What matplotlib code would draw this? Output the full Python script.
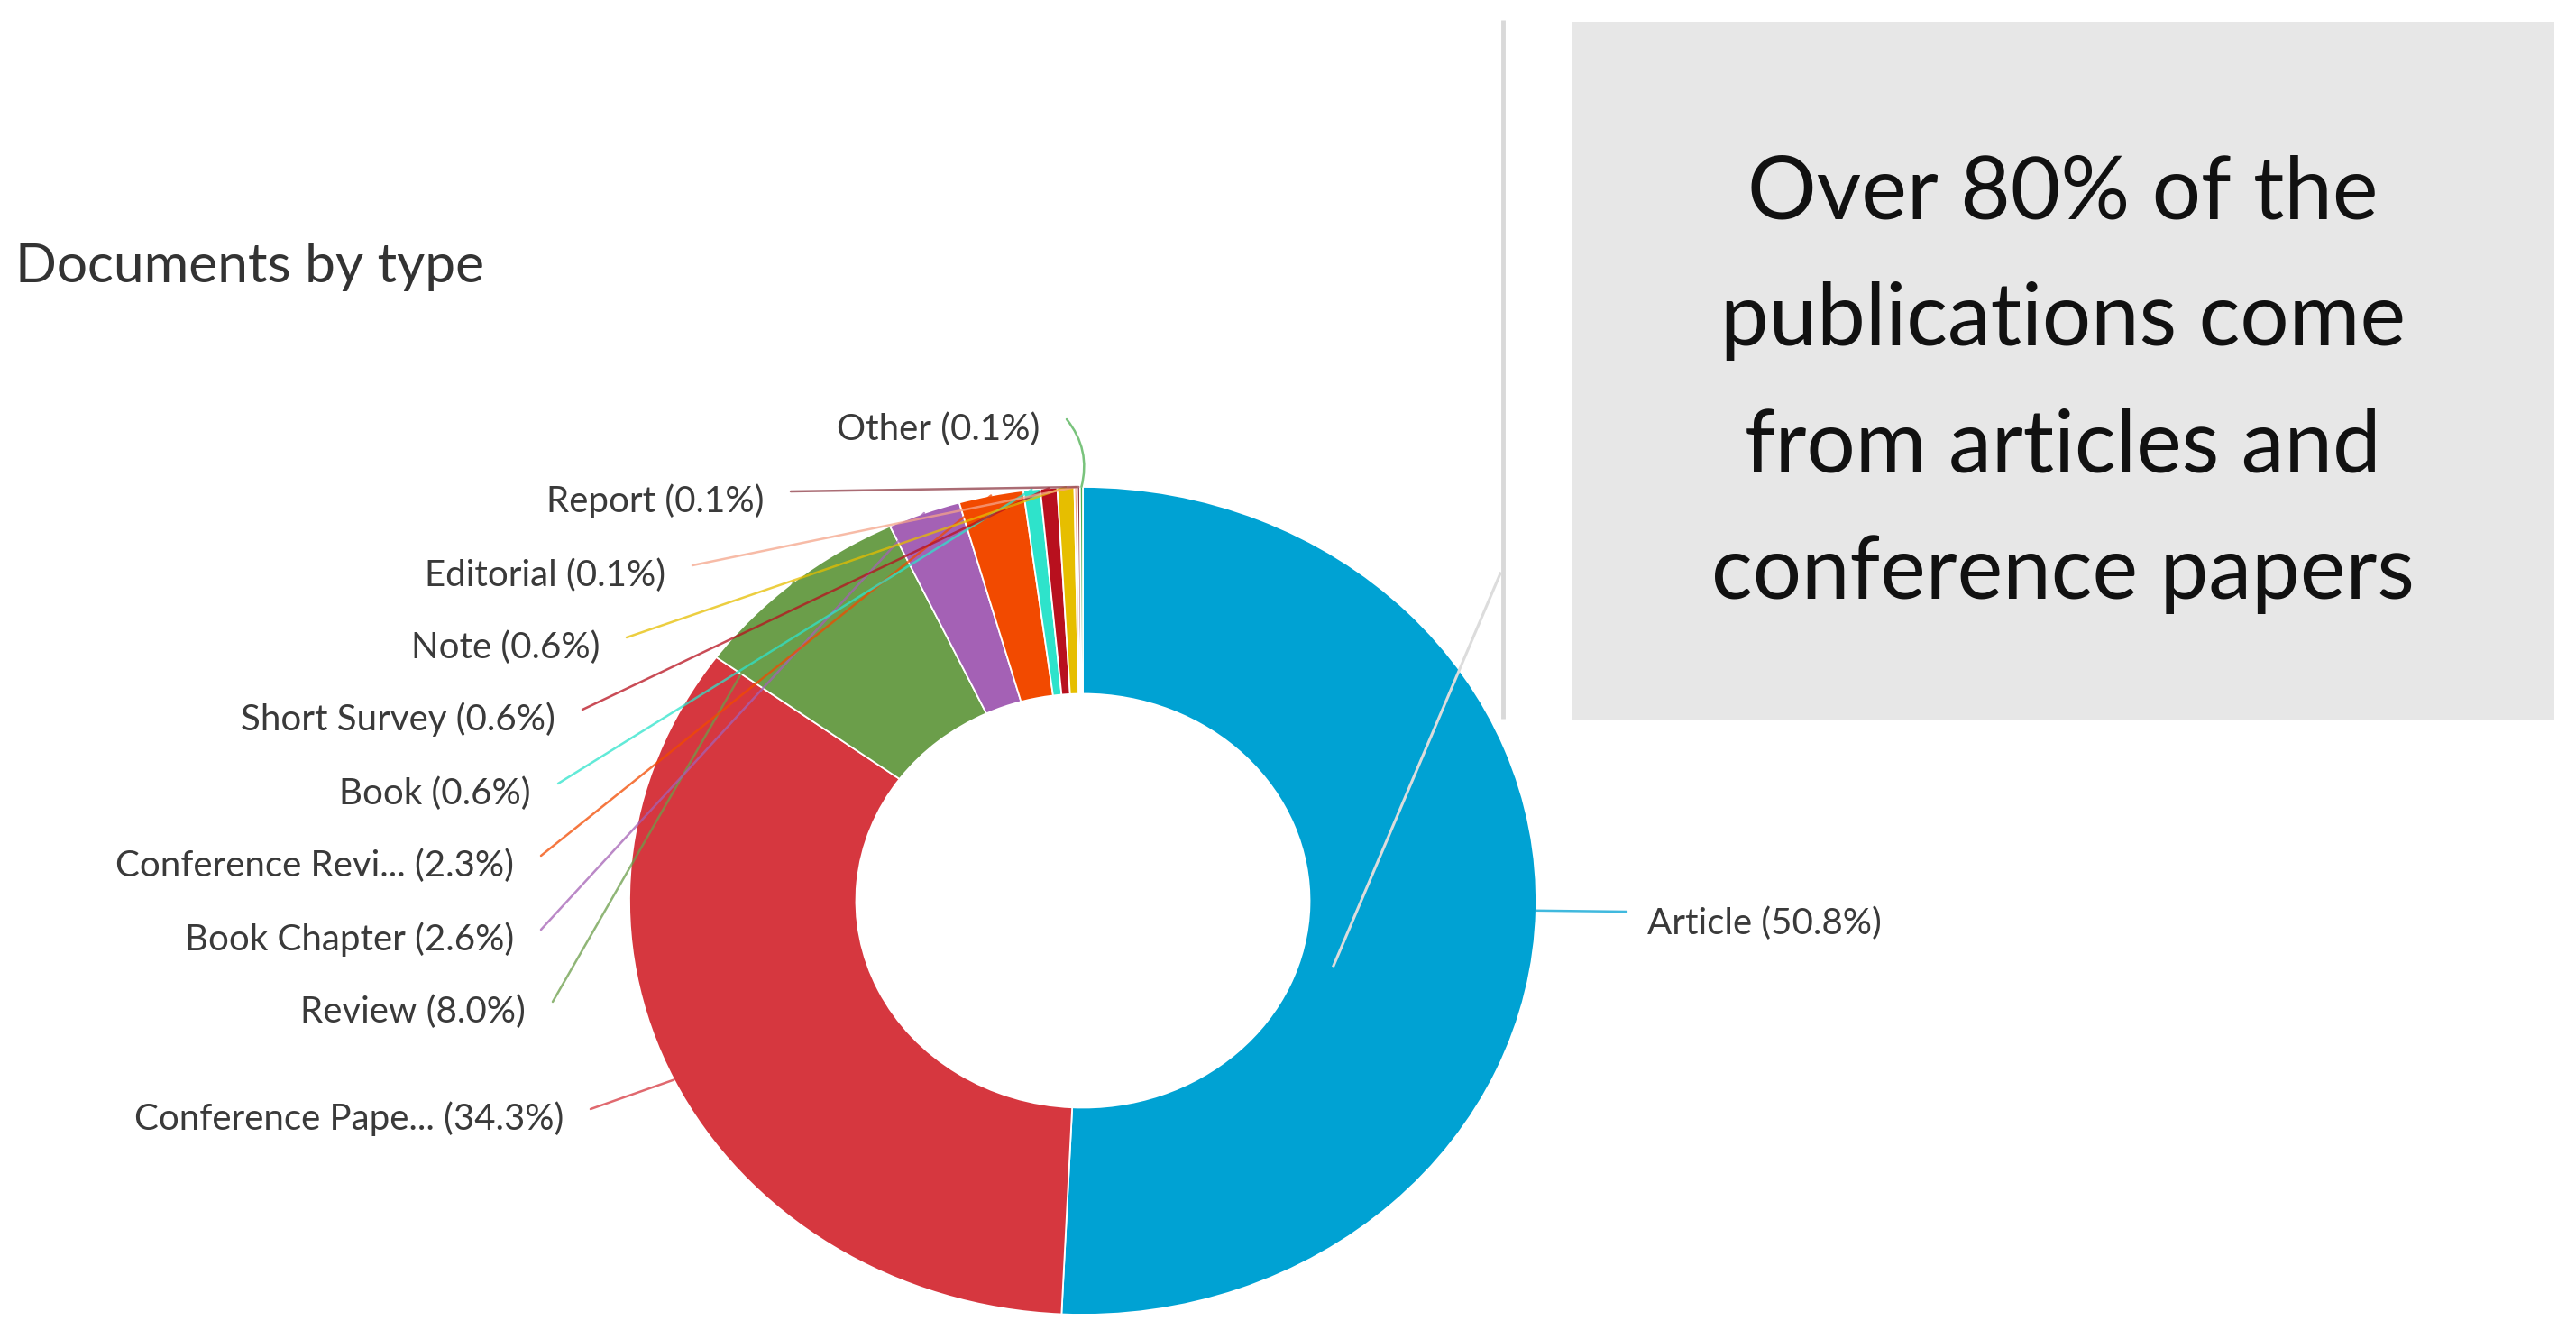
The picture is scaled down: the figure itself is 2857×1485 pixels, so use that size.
import matplotlib.pyplot as plt
import numpy as np

# Documents by type (share in %)
doc_types = ['Article', 'Conference Pape...', 'Review', 'Book Chapter', 'Conference Revi...',
             'Book', 'Short Survey', 'Note', 'Editorial', 'Report', 'Other']
shares = [50.8, 34.3, 8.0, 2.6, 2.3, 0.6, 0.6, 0.6, 0.1, 0.1, 0.1]
slice_colors = ['#00A2D3', '#D6373F', '#6B9E4A', '#A461B5', '#F24A00',
                '#2EE3CB', '#B8101E', '#E6BE00', '#F5A58A', '#8E3B46', '#4CAF50']

W, H = 2857, 1485
fig = plt.figure(figsize=(W / 100, H / 100), dpi=100)
fig.patch.set_facecolor('white')

# donut (slightly wider than tall, like the screenshot)
cx, cy, rx, ry = 1201, 999, 503, 459
pax = fig.add_axes([(cx - rx) / W, (H - cy - ry) / H, 2 * rx / W, 2 * ry / H])
wedges, _ = pax.pie(shares, colors=slice_colors, startangle=90, counterclock=False,
                    radius=1, wedgeprops=dict(width=0.5, edgecolor='white', linewidth=1.3))
pax.set_aspect('auto')
pax.set_xlim(-1, 1)
pax.set_ylim(-1, 1)
pax.axis('off')

# overlay in pixel coordinates for text, box, callout
ov = fig.add_axes([0, 0, 1, 1])
ov.set_xlim(0, W)
ov.set_ylim(H, 0)
ov.axis('off')
ov.set_facecolor('none')

ov.text(17, 296, 'Documents by type', fontsize=43.5, color='#333333',
        family='Lato', ha='left', va='center')

# label anchors: (x, y) of the text end (right-aligned), Article is left-aligned
label_pos = {
    'Other': (1153, 476), 'Report': (847, 556), 'Editorial': (738, 638),
    'Note': (665, 718), 'Short Survey': (616, 798), 'Book': (589, 880),
    'Conference Revi...': (570, 960), 'Book Chapter': (570, 1042),
    'Review': (583, 1122), 'Conference Pape...': (625, 1241), 'Article': (1827, 1024),
}

for name, val, w, col in zip(doc_types, shares, wedges, slice_colors):
    tx, ty = label_pos[name]
    mid = np.deg2rad((w.theta1 + w.theta2) / 2)
    edge = (np.cos(mid), np.sin(mid))
    if name == 'Article':
        ov.text(tx, ty, f'{name} ({val:.1f}%)', fontsize=29, color='#3A3A3A',
                family='Lato', ha='left', va='center')
        start = (tx - 23, ty - 13)
        cs = 'arc3'
    else:
        ov.text(tx, ty, f'{name} ({val:.1f}%)', fontsize=29, color='#3A3A3A',
                family='Lato', ha='right', va='center')
        start = (tx + 30, ty - 11)
        cs = 'arc3,rad=-0.25' if name == 'Other' else 'arc3'
    pax.annotate('', xy=edge, xycoords='data', xytext=start, textcoords=ov.transData,
                 arrowprops=dict(arrowstyle='-', color=col, alpha=0.75, lw=1.8,
                                 shrinkA=0, shrinkB=0, connectionstyle=cs),
                 annotation_clip=False)

# grey callout box
box = plt.Rectangle((1744, 24), 1089, 774, facecolor='#E7E7E7', edgecolor='none')
ov.add_patch(box)
ov.text(2288, 426, 'Over 80% of the\npublications come\nfrom articles and\nconference papers',
        fontsize=69, family='Lato', color='#111111', ha='center', va='center',
        linespacing=1.74)

# callout pointer lines
ov.plot([1667, 1667], [22, 797], color='#D9D9D9', lw=3.5, solid_capstyle='butt')
ov.plot([1664, 1479], [636, 1071], color='#DCDCDC', lw=2.2)

fig.savefig('out.png', dpi=100)
